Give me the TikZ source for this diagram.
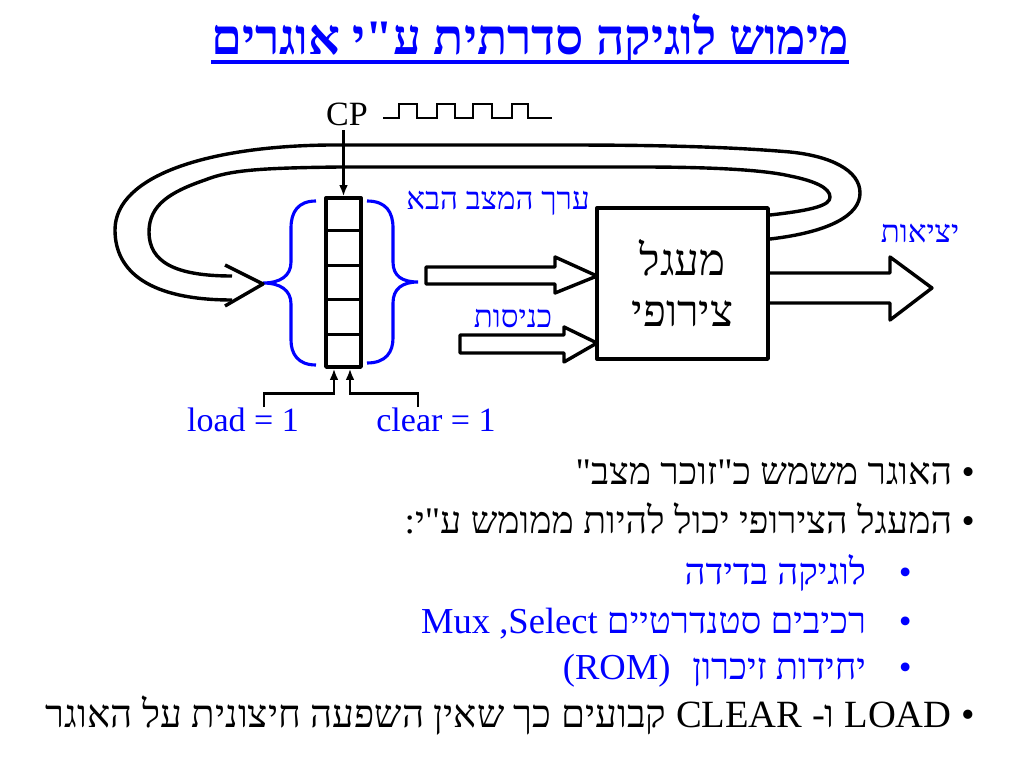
\documentclass[tikz,border=0pt]{standalone}
\usepackage{fontspec}
\setmainfont{Liberation Serif}
\newfontfamily\hebfont[Script=Hebrew]{Liberation Serif}
\TeXXeTstate=1
\usetikzlibrary{arrows.meta,positioning,calc}

\newcommand{\rtl}[1]{\beginR#1\endR}
\newcommand{\ltr}[1]{\beginL#1\endL}

\tikzset{
  heavy/.style={line width=2.4pt, line join=round},
  wire/.style={line width=1.9pt, -{Latex[length=2.8mm,width=2.2mm]}},
  curly/.style={blue, line width=2.2pt},
  bluelabel/.style={text=blue, font=\fontsize{22}{26}\selectfont\hebfont},
  latinlabel/.style={font=\fontsize{24}{28}\selectfont},
  bodytext/.style={anchor=base east, inner sep=0pt, font=\fontsize{26.5}{30}\selectfont\hebfont},
  subtext/.style={bodytext, text=blue, font=\fontsize{25.8}{30}\selectfont\hebfont},
}

\begin{document}
\begin{tikzpicture}[x=0.0248cm, y=-0.0248cm]
  \useasboundingbox[fill=white] (0,0) rectangle (1024,768);

  % title
  \node[anchor=base, inner sep=0pt, text=blue, font=\fontsize{35}{40}\selectfont\bfseries\hebfont] (title) at (530,55)
    {\rtl{מימוש לוגיקה סדרתית ע"י אוגרים}};
  \draw[blue, line width=2.8pt] ($(title.base west)+(0,7)$) -- ($(title.base east)+(0,7)$);

  % clock
  \node[latinlabel] (cp) at (347,114) {CP};
  \draw[line width=2pt] (383,118)
    \foreach \r/\f in {399/417,437/455,473/492,512/528}{ -- (\r,118) -- (\r,104) -- (\f,104) -- (\f,118)}
    -- (552,118);

  % register
  \node[draw, heavy, minimum width=0.87cm, minimum height=4.19cm, inner sep=0pt] (reg) at (343.5,282.5) {};
  \foreach \k in {1,...,4}
    \draw[heavy] ($(reg.north west)!\k/5!(reg.south west)$) -- ($(reg.north east)!\k/5!(reg.south east)$);
  \draw[wire] (reg.north |- cp.south) -- (reg.north);

  % braces
  \draw[curly] (316,201) .. controls (298,201) and (291,212) .. (291,228) -- (291,262)
    .. controls (291,276) and (280,283) .. (263,283)
    .. controls (280,283) and (291,290) .. (291,304) -- (291,340)
    .. controls (291,354) and (298,365) .. (316,365);
  \draw[curly] (367,201) .. controls (386,201) and (393,212) .. (393,228) -- (393,262)
    .. controls (393,276) and (402,282) .. (418,282)
    .. controls (402,282) and (393,289) .. (393,303) -- (393,338)
    .. controls (393,352) and (386,363) .. (367,363);

  % combinational circuit
  \node[draw, heavy, minimum width=4.24cm, minimum height=3.75cm, align=center,
        font=\fontsize{31}{36}\selectfont\hebfont] (comb) at (682.5,283.5)
    {\rtl{מעגל}\\\rtl{צירופי}};

  % block arrows
  \draw[heavy] (426,267) -- (555,267) -- (555,257) -- (597,276) -- (555,293) -- (555,284) -- (426,284) -- cycle;
  \draw[heavy] (460,335) -- (564,335) -- (564,327) -- (597,343) -- (564,362) -- (564,353) -- (460,353) -- cycle;
  \draw[heavy] (768,273) -- (890,273) -- (890,257) -- (932,288) -- (890,320) -- (890,303) -- (768,303);

  % labels
  \node[bluelabel] (nextlbl) at (498,203) {\rtl{ערך המצב הבא}};
  \node[bluelabel] (inlbl) at (513,318) {\rtl{כניסות}};
  \node[bluelabel] (outlbl) at (920,233) {\rtl{יציאות}};

  % feedback loop
  \draw[heavy] (770,239) .. controls (830,232) and (860,215) .. (860,193)
    .. controls (860,170) and (830,156) .. (790,152)
    .. controls (720,146) and (640,145) .. (560,145) -- (330,145)
    .. controls (210,146) and (115,175) .. (115,230)
    .. controls (115,272) and (150,300) .. (232,300);
  \draw[heavy] (770,215) .. controls (815,210) and (830,205) .. (830,197)
    .. controls (830,188) and (815,181) .. (790,176)
    .. controls (760,169) and (700,167) .. (640,167) -- (340,167)
    .. controls (260,168) and (230,170) .. (205,180)
    .. controls (170,192) and (149,205) .. (149,232)
    .. controls (149,262) and (175,276) .. (232,276);
  \draw[heavy] (225,265) -- (263,284) -- (225,306);

  % load and clear
  \node[latinlabel, text=blue] (load) at (243,420) {load = 1};
  \node[latinlabel, text=blue] (clear) at (436,420) {clear = 1};
  \draw[wire] ($(load.north)+(21,4)$) |- ($(reg.south)+(-9.5,25)$) -- ($(reg.south)+(-9.5,0)$);
  \draw[wire] ($(clear.north)+(-18,4)$) |- ($(reg.south)+(6.5,25)$) -- ($(reg.south)+(6.5,0)$);

  % bullets
  \node[bodytext] (b1) at (975,484) {\rtl{• האוגר משמש כ"זוכר מצב"}};
  \node[bodytext] (b2) at (975,533) {\rtl{• המעגל הצירופי יכול להיות ממומש ע"י:}};
  \node[subtext] (s1) at (912,584) {\rtl{•\hspace{0.9em}לוגיקה בדידה}};
  \node[subtext] (s2) at (912,633) {\rtl{•\hspace{0.9em}רכיבים סטנדרטיים \ltr{Select}, \ltr{Mux}}};
  \node[subtext] (s3) at (912,679) {\rtl{•\hspace{0.9em}יחידות זיכרון\hspace{0.6em}\ltr{(ROM)}}};
  \node[bodytext, font=\fontsize{27.2}{30}\selectfont\hebfont] (b3) at (975,727)
    {\rtl{• \ltr{LOAD} ו\mbox{-} \ltr{CLEAR} קבועים כך שאין השפעה חיצונית על האוגר}};
\end{tikzpicture}
\end{document}
